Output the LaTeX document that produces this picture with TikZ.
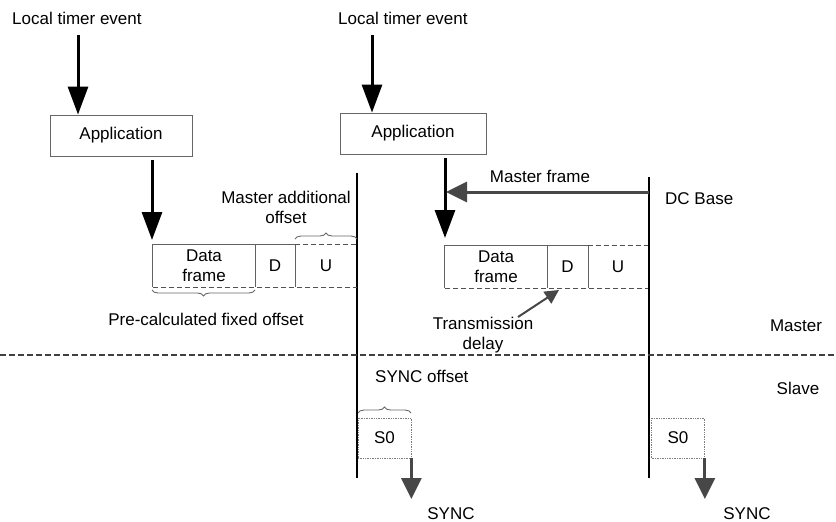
\documentclass[tikz,border=0pt]{standalone}
\usepackage{fontspec}
\setmainfont{Liberation Sans}
\usetikzlibrary{arrows.meta,decorations.pathreplacing}
\begin{document}
\begin{tikzpicture}[x=1pt,y=-1pt,
  font=\fontsize{17}{20.5}\selectfont,
  timeline/.style={line width=2.6pt, black},
  bigarrow/.style={line width=3pt, black, -{Triangle[width=20pt,length=28pt]}},
  grayarrow/.style={line width=3pt, draw=black!72, fill=black!72, -{Triangle[width=20pt,length=21pt]}},
  smallarrow/.style={line width=2pt, draw=black!72, -{Triangle[width=14pt,length=14pt]}},
  appbox/.style={draw=black!60, line width=0.8pt, minimum height=41pt, inner sep=0pt},
  fbox/.style={minimum height=42pt, inner sep=0pt, align=center, font=\fontsize{17}{20}\selectfont},
  fsolid/.style={draw=black!62, line width=1.2pt},
  fdash/.style={draw=black!68, line width=1.3pt, dash pattern=on 5pt off 3pt},
  s0box/.style={draw=black!50, line width=0.7pt, densely dotted, minimum width=53pt, minimum height=40pt, inner sep=0pt},
  bracestyle/.style={draw=black!60, line width=0.9pt, decorate, decoration={brace, amplitude=6pt}},
  lbl/.style={inner sep=0pt, anchor=west},
  clbl/.style={inner sep=0pt, align=center},
  divider/.style={draw=black!75, line width=1.4pt, dash pattern=on 6pt off 3pt}
]
\path[use as bounding box] (0,0) rectangle (836,522);

% top labels
\node[lbl] (lte1) at (12,18) {Local timer event};
\node[lbl] (lte2) at (338,18) {Local timer event};

% application boxes
\node[appbox, minimum width=142pt] (app1) at (121,135.5) {Application};
\node[appbox, minimum width=146pt] (app2) at (413,133.5) {Application};

\coordinate (a1s) at (78,35);
\coordinate (a2s) at (372,35);
\draw[bigarrow] (a1s) -- (a1s |- app1.north);
\draw[bigarrow] (a2s) -- (a2s |- app2.north);

% timelines
\coordinate (m1t) at (357,173);
\coordinate (m1b) at (357,478);
\coordinate (dct) at (649,177);
\coordinate (dcb) at (649,478);
\draw[timeline] (m1t) -- (m1b);
\draw[timeline] (dct) -- (dcb);

% arrows from applications
\coordinate (a3s) at (152,160);
\coordinate (a3e) at (152,240);
\coordinate (a4s) at (445,158);
\coordinate (a4e) at (445,238);
\draw[bigarrow] (a3s) -- (a3e);
\draw[bigarrow] (a4s) -- (a4e);

% master frame arrow
\coordinate (mfs) at (649,192);
\coordinate (mfe) at (446,192);
\draw[grayarrow] (mfs) -- (mfe);
\node[clbl] (mft) at (540,176) {Master frame};
\node[lbl] (dcl) at (665,199) {DC Base};

% left frame group
\node[fbox, minimum width=102pt] (df1) at (204,266) {Data\\frame};
\node[fbox, minimum width=40pt] (d1) at (275,266) {D};
\node[fbox, minimum width=62pt] (u1) at (326,266) {U};
\draw[fsolid] (df1.south west) -- (df1.north west) -- (d1.north east);
\draw[fsolid] (df1.north east) -- (df1.south east);
\draw[fsolid] (d1.north east) -- (d1.south east);
\draw[fdash] (df1.south west) -- (u1.south east);
\draw[fdash] (u1.north west) -- (u1.north east);

% right frame group
\node[fbox, minimum width=102pt] (df2) at (496,267) {Data\\frame};
\node[fbox, minimum width=41pt] (d2) at (567.5,267) {D};
\node[fbox, minimum width=60pt] (u2) at (618,267) {U};
\draw[fsolid] (df2.south west) -- (df2.north west) -- (d2.north east);
\draw[fsolid] (df2.north east) -- (df2.south east);
\draw[fsolid] (d2.north east) -- (d2.south east);
\draw[fdash] (df2.south west) -- (u2.south east);
\draw[fdash] (u2.north west) -- (u2.north east);

% braces and offset labels
\coordinate (b1l) at (295,239);
\coordinate (b1r) at (357,239);
\draw[bracestyle] (b1l) -- (b1r);
\node[clbl] (mao) at (286,207.5) {Master additional\\offset};

\coordinate (b2l) at (152,290);
\coordinate (b2r) at (255,290);
\draw[bracestyle, decoration={brace, amplitude=6pt, mirror}] (b2l) -- (b2r);
\node[clbl] (pcf) at (206,319) {Pre-calculated fixed offset};

% transmission delay
\node[clbl] (td) at (483,335) {Transmission\\delay};
\coordinate (tds) at (518,317);
\coordinate (tde) at (559,290);
\draw[smallarrow] (tds) -- (tde);

% divider
\coordinate (dl) at (0,355);
\coordinate (dr) at (836,355);
\draw[divider] (dl) -- (dr);
\node[clbl] (mst) at (796,326) {Master};
\node[clbl] (slv) at (798,388) {Slave};

% slave side
\node[lbl] (so) at (375,376) {SYNC offset};
\coordinate (b3l) at (358,413);
\coordinate (b3r) at (411,413);
\draw[bracestyle] (b3l) -- (b3r);

\node[s0box] (s01) at (384.5,438) {S0};
\node[s0box] (s02) at (678,438) {S0};

\coordinate (sy1) at (s01.south east |- 0,499);
\coordinate (sy2) at (s02.south east |- 0,499);
\draw[grayarrow] (s01.south east) -- (sy1);
\draw[grayarrow] (s02.south east) -- (sy2);
\node[clbl] (sync1) at (451,514) {SYNC};
\node[clbl] (sync2) at (747,514) {SYNC};
\end{tikzpicture}
\end{document}
